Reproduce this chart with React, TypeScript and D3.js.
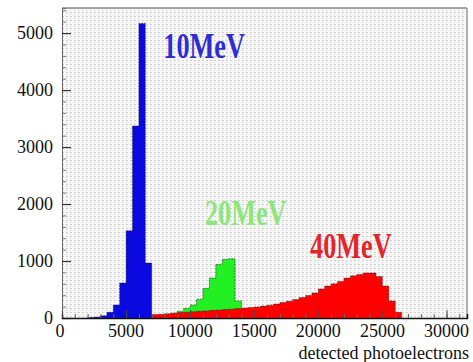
import * as d3 from 'd3';
import { type FC, useEffect, useRef } from 'react';

const BIN = 500;

// 10 MeV histogram, bins of 500 starting at 2000
const blueStart = 2000;
const blueCounts = [10, 15, 40, 100, 230, 615, 1530, 3370, 5170, 965];

// 20 MeV histogram, bins starting at 8000
const greenStart = 8000;
const greenCounts = [40, 80, 120, 170, 230, 330, 520, 700, 940, 1030, 1040, 300, 110];

// 40 MeV histogram, bins starting at 2500
const redStart = 2500;
const redCounts = [
  10, 15, 20, 25, 30, 35, 40, 45, 50, 60, 65, 75, 85, 95, 100, 110, 120, 125,
  135, 140, 150, 155, 165, 175, 185, 195, 210, 225, 245, 270, 295, 325, 360,
  395, 440, 510, 560, 600, 640, 700, 740, 765, 790, 790, 730, 560, 300, 100,
];

const xTicks = [0, 5000, 10000, 15000, 20000, 25000, 30000];
const yTicks = [0, 1000, 2000, 3000, 4000, 5000];

const labels = [
  { text: '10MeV', x: 7900, y: 4560, color: '#2d2dd2' },
  { text: '20MeV', x: 11150, y: 1640, color: '#8ee67a' },
  { text: '40MeV', x: 19350, y: 1060, color: '#e3262a' },
];

const SERIF = "'Liberation Serif', 'Times New Roman', 'DejaVu Serif', serif";

const App: FC = () => {
  const svgRef = useRef<SVGSVGElement>(null);

  useEffect(() => {
    if (!svgRef.current) return;
    const svg = d3.select(svgRef.current);
    svg.selectAll('*').remove();

    const margin = { top: 8, right: 6, bottom: 44, left: 62 };
    const W = 473;
    const H = 362;
    const width = W - margin.left - margin.right;
    const height = H - margin.top - margin.bottom;

    const x = d3.scaleLinear().domain([0, 31600]).range([0, width]);
    const y = d3.scaleLinear().domain([0, 5440]).range([height, 0]);

    // dotted background, like the ROOT canvas
    const defs = svg.append('defs');
    const pat = defs
      .append('pattern')
      .attr('id', 'dots')
      .attr('width', 4)
      .attr('height', 4)
      .attr('patternUnits', 'userSpaceOnUse');
    pat.append('rect').attr('width', 4).attr('height', 4).attr('fill', '#f7f7f7');
    pat.append('rect').attr('width', 2).attr('height', 1).attr('fill', '#cfcfcf');
    pat.append('rect').attr('y', 2).attr('width', 1).attr('height', 1).attr('fill', '#dcdcdc');

    const g = svg
      .append('g')
      .attr('transform', `translate(${margin.left},${margin.top})`);

    g.append('rect')
      .attr('width', width)
      .attr('height', height)
      .attr('fill', 'url(#dots)');

    const area = d3
      .area<[number, number]>()
      .x((d) => x(d[0]))
      .y0(height)
      .y1((d) => y(d[1]))
      .curve(d3.curveStepAfter);

    const line = d3
      .line<[number, number]>()
      .x((d) => x(d[0]))
      .y((d) => y(d[1]))
      .curve(d3.curveStepAfter);

    const hist = (start: number, counts: number[], fill: string) => {
      const pts: [number, number][] = [[start, 0]];
      counts.forEach((c, i) => pts.push([start + i * BIN, c]));
      pts.push([start + counts.length * BIN, 0]);
      g.append('path').attr('d', area(pts)).attr('fill', fill);
      g.append('path')
        .attr('d', line(pts))
        .attr('fill', 'none')
        .attr('stroke', '#1a1a1a')
        .attr('stroke-width', 0.8)
        .attr('stroke-dasharray', '2,1')
        .attr('opacity', 0.7);
    };

    hist(greenStart, greenCounts, '#22f022');
    hist(redStart, redCounts, '#fe0000');
    hist(blueStart, blueCounts, '#0a0ae0');

    // frame
    g.append('line')
      .attr('x1', 0).attr('x2', width).attr('y1', 0).attr('y2', 0)
      .attr('stroke', '#8a8a8a').attr('stroke-width', 1.5);
    g.append('line')
      .attr('x1', width).attr('x2', width).attr('y1', 0).attr('y2', height)
      .attr('stroke', '#9a9a9a').attr('stroke-width', 1.5);

    // Y axis (ticks point inward)
    g.append('g')
      .call(d3.axisRight(y).tickValues(d3.range(0, 5401, 200)).tickSize(4).tickFormat(() => ''))
      .call((a) => a.select('.domain').attr('stroke', '#666'))
      .call((a) => a.selectAll('.tick line').attr('stroke', '#777'));
    g.append('g')
      .call(d3.axisRight(y).tickValues(yTicks).tickSize(9).tickFormat(() => ''))
      .call((a) => a.select('.domain').remove())
      .call((a) => a.selectAll('.tick line').attr('stroke', '#333').attr('stroke-width', 1.2));
    g.selectAll('.ylab')
      .data(yTicks)
      .join('text')
      .attr('class', 'ylab')
      .attr('x', -9)
      .attr('y', (d) => y(d) + 6)
      .attr('text-anchor', 'end')
      .style('font-family', SERIF)
      .style('font-size', '18px')
      .attr('fill', '#111')
      .text((d) => d);

    // X axis
    g.append('g')
      .attr('transform', `translate(0,${height})`)
      .call(d3.axisTop(x).tickValues(d3.range(0, 31001, 1000)).tickSize(4).tickFormat(() => ''))
      .call((a) => a.select('.domain').attr('stroke', '#111').attr('stroke-width', 1.5))
      .call((a) => a.selectAll('.tick line').attr('stroke', '#666'));
    g.append('g')
      .attr('transform', `translate(0,${height})`)
      .call(d3.axisTop(x).tickValues(xTicks).tickSize(8).tickFormat(() => ''))
      .call((a) => a.select('.domain').remove())
      .call((a) => a.selectAll('.tick line').attr('stroke', '#444'));
    g.selectAll('.xlab')
      .data(xTicks)
      .join('text')
      .attr('class', 'xlab')
      .attr('x', (d) => x(d) + (d === 0 ? -2 : 0))
      .attr('y', height + 19)
      .attr('text-anchor', 'middle')
      .style('font-family', SERIF)
      .style('font-size', '18px')
      .attr('fill', '#111')
      .text((d) => d);

    g.append('text')
      .attr('x', width + 2)
      .attr('y', height + 41)
      .attr('text-anchor', 'end')
      .style('font-family', SERIF)
      .style('font-size', '18px')
      .attr('fill', '#111')
      .text('detected photoelectrons');

    // series labels (tall, condensed)
    g.selectAll('.mev')
      .data(labels)
      .join('text')
      .attr('class', 'mev')
      .attr('transform', (d) => `translate(${x(d.x)},${y(d.y)}) scale(0.73,1)`)
      .style('font-family', SERIF)
      .style('font-weight', 'bold')
      .style('font-size', '36px')
      .attr('fill', (d) => d.color)
      .text((d) => d.text);
  }, []);

  return (
    <svg
      ref={svgRef}
      width={473}
      height={362}
      style={{ position: 'absolute', left: 0, top: 0, background: '#fff' }}
    />
  );
};

export default App;
